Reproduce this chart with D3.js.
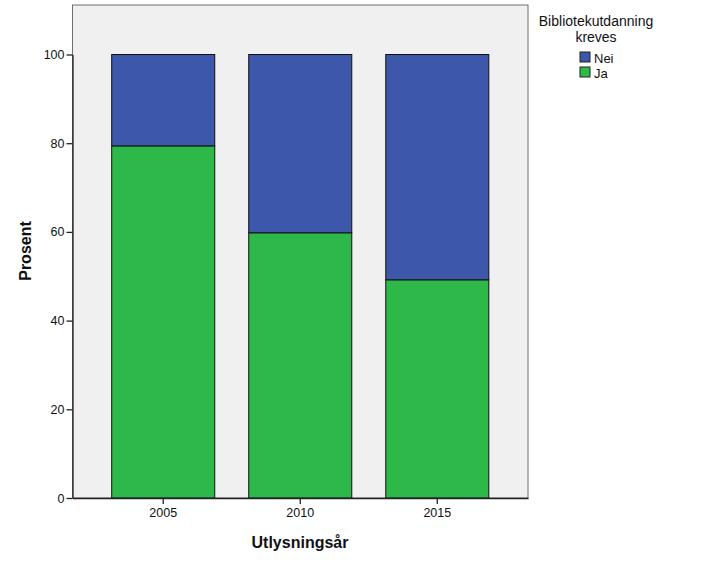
<!DOCTYPE html>
<html><head><meta charset="utf-8">
<script src="https://cdn.jsdelivr.net/npm/d3@7"></script>
<style>body{margin:0;background:#fff;} svg{display:block;font-family:"Liberation Sans",Arial,sans-serif;}</style>
</head><body>
<svg id="c" width="706" height="565"></svg>
<script>
const years = ["2005","2010","2015"];
const ja = [79.4, 59.8, 49.2];
const nei = [20.6, 40.2, 50.8];
const yTicks = [0,20,40,60,80,100];
const seriesNames = ["Nei","Ja"];
const colors = {Nei:"#3d58ab", Ja:"#2fb84a"};

const svg = d3.select("#c");
const L=72.5, R=528, T=5, B=498;
svg.append("rect").attr("x",L).attr("y",T).attr("width",R-L).attr("height",B-T)
  .attr("fill","#f0f0f0").attr("stroke","#6e6e6e").attr("stroke-width",1);

const x = d3.scaleBand().domain(years).range([L,R]).paddingInner(0.248).paddingOuter(0.286);
const y = d3.scaleLinear().domain([0,100]).range([B, B-443.5]);

const data = years.map((yr,i)=>({year:yr, Ja:ja[i], Nei:nei[i]}));
const stack = d3.stack().keys(["Ja","Nei"])(data);

svg.append("g").selectAll("g").data(stack).join("g")
  .attr("fill", d=>colors[d.key])
  .selectAll("rect").data(d=>d).join("rect")
  .attr("x", d=>x(d.data.year)).attr("width", x.bandwidth())
  .attr("y", d=>y(d[1])).attr("height", d=>y(d[0])-y(d[1]))
  .attr("stroke","#111").attr("stroke-width",1);

const ya = svg.append("g").attr("transform",`translate(${L},0)`)
  .call(d3.axisLeft(y).tickValues(yTicks).tickSize(6).tickSizeOuter(0).tickPadding(2));
const xa = svg.append("g").attr("transform",`translate(0,${B})`)
  .call(d3.axisBottom(x).tickSize(6).tickSizeOuter(0).tickPadding(4));
[ya,xa].forEach(a=>{
  a.select(".domain").attr("stroke","#222").attr("stroke-width",1.3);
  a.selectAll(".tick line").attr("stroke","#222").attr("stroke-width",1.3);
  a.selectAll("text").attr("font-size",12.5).attr("fill","#111").attr("font-family","Liberation Sans, Arial, sans-serif");
});

svg.append("text").attr("transform","translate(31,251) rotate(-90)").attr("text-anchor","middle")
  .attr("font-size",16).attr("font-weight","bold").attr("fill","#111").text("Prosent");
svg.append("text").attr("x",300).attr("y",548).attr("text-anchor","middle")
  .attr("font-size",16).attr("font-weight","bold").attr("fill","#111").text("Utlysningsår");

svg.append("text").attr("x",596).attr("y",26).attr("text-anchor","middle").attr("font-size",14).attr("fill","#111").text("Bibliotekutdanning");
svg.append("text").attr("x",596).attr("y",42).attr("text-anchor","middle").attr("font-size",14).attr("fill","#111").text("kreves");
const lg = svg.append("g").selectAll("g").data(seriesNames).join("g")
  .attr("transform",(d,i)=>`translate(580,${52+i*15})`);
lg.append("rect").attr("width",10).attr("height",10).attr("fill",d=>colors[d]).attr("stroke","#222");
lg.append("text").attr("x",14).attr("y",10.5).attr("font-size",13).attr("fill","#111").text(d=>d);
</script>
</body></html>
